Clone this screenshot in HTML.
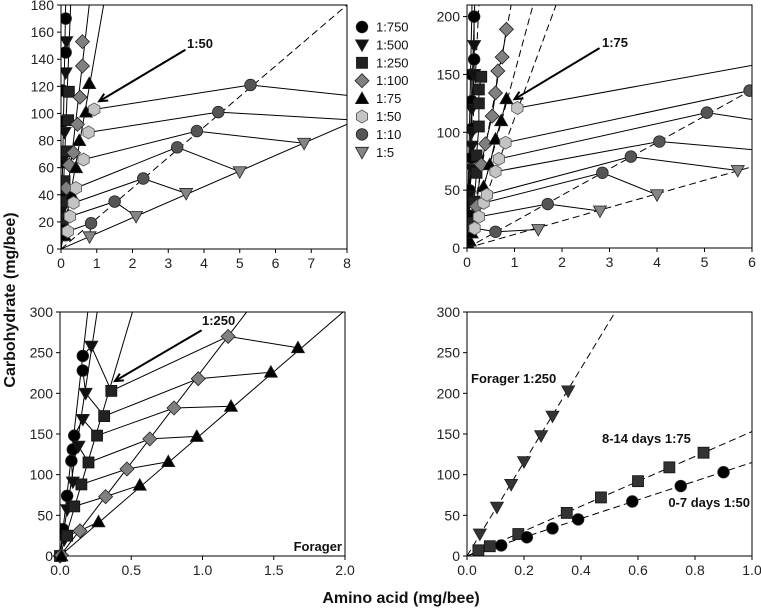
<!DOCTYPE html>
<html><head><meta charset="utf-8"><style>
body{margin:0;background:#fff}
svg{display:block;font-family:"Liberation Sans",sans-serif}
</style></head><body>
<svg id="chart" width="761" height="608" viewBox="0 0 761 608" xmlns="http://www.w3.org/2000/svg">
<text x="0" y="0" transform="translate(15,300) rotate(-90)" text-anchor="middle" font-size="16" font-weight="bold" fill="#111">Carbohydrate (mg/bee)</text>
<text x="401" y="603" text-anchor="middle" font-size="16" font-weight="bold" fill="#111">Amino acid (mg/bee)</text>
</svg>
<script>
// ---------- Panel 1 (top-left) ----------
const p1XTicks=[0,1,2,3,4,5,6,7,8];
const p1YTicks=[0,20,40,60,80,100,120,140,160,180];
const p1C750X=[0.02,0.03,0.04,0.05,0.04,0.13,0.13], p1C750Y=[15,37,64,94,117,145,170];
const p1T500X=[0.03,0.05,0.07,0.1,0.1,0.13,0.15], p1T500Y=[12,30,48,68,86,130,153];
const p1S250X=[0.02,0.05,0.08,0.1,0.15,0.2,0.22], p1S250Y=[10,22,35,50,72,95,116];
const p1D100X=[0.15,0.23,0.35,0.46,0.53,0.6,0.6], p1D100Y=[45,62,71,92,112,135,153];
const p1T75X=[0.1,0.2,0.3,0.42,0.51,0.7,0.79], p1T75Y=[10,25,40,60,80,101,122];
const p1H50X=[0.19,0.25,0.35,0.42,0.63,0.77,0.93], p1H50Y=[13,24,34,45,66,86,103];
const p1C10X=[0.84,1.5,2.3,3.25,3.8,4.4,5.3], p1C10Y=[19,35,52,75,87,101,121];
const p1T5X=[0.8,2.1,3.5,5.0,6.8,8.3,9.5], p1T5Y=[9,24,41,57,78,95,109];
const p1SolidSlopes=[1385,667,228,151,11.5];
const p1DashedSlopes=[22.5];
// ---------- Panel 2 (top-right) ----------
const p2XTicks=[0,1,2,3,4,5,6];
const p2YTicks=[0,50,100,150,200];
const p2C750X=[0.05,0.05,0.1,0.1,0.1,0.1,0.15,0.15], p2C750Y=[28,50,78,103,127,150,163,200];
const p2T500X=[0.05,0.05,0.1,0.1,0.1,0.1,0.15,0.15], p2T500Y=[20,45,68,88,100,120,150,175];
const p2S250X=[0.05,0.15,0.2,0.2,0.25,0.25,0.25,0.3], p2S250Y=[22,40,65,80,105,125,137,148];
const p2D100X=[0.2,0.3,0.39,0.53,0.6,0.65,0.74,0.83], p2D100Y=[36,72,90,114,134,153,165,189];
const p2T75X=[0.04,0.06,0.1,0.35,0.48,0.6,0.72,0.83], p2T75Y=[2,6,13,53,72,94,110,129];
const p2H50X=[0.16,0.25,0.35,0.42,0.6,0.67,0.81,1.06], p2H50Y=[17,27,39,46,66,77,91,121];
const p2C10X=[0.6,1.7,2.85,3.45,4.05,5.05,5.95,7.5], p2C10Y=[14,38,65,79,92,117,136,169];
const p2T5X=[1.5,2.8,4.0,5.7,6.97,8.27,null,null], p2T5Y=[16,32,46,67,81.5,96.7,null,null];
const p2SolidSlopes=[2000,1300];
const p2DashedSlopes=[840,226,151,112,22.8,11.7];
// ---------- Panel 3 (bottom-left, forager) ----------
const p3XTicks=[0,0.5,1.0,1.5,2.0];
const p3XTickLabels=["0.0","0.5","1.0","1.5","2.0"];
const p3YTicks=[0,50,100,150,200,250,300];
const p3C750X=[0.02,0.05,0.08,0.09,0.1,0.16,0.16], p3C750Y=[33,74,117,131,148,228,246];
const p3T500X=[0.03,0.05,0.09,0.13,0.16,0.18,0.22], p3T500Y=[20,57,91,135,168,200,258];
const p3S250X=[0.05,0.1,0.15,0.2,0.26,0.31,0.36], p3S250Y=[25,61,88,115,148,172,203];
const p3D100X=[0.14,0.32,0.47,0.63,0.8,0.97,1.18], p3D100Y=[31,73,107,144,182,218,270];
const p3T75X=[0.27,0.56,0.76,0.96,1.2,1.48,1.67], p3T75Y=[42,87,116,147,184,226,256];
const p3SolidSlopes=[1540,1150,590,229,151];
// ---------- Panel 4 (bottom-right) ----------
const p4XTicks=[0,0.2,0.4,0.6,0.8,1.0];
const p4XTickLabels=["0.0","0.2","0.4","0.6","0.8","1.0"];
const p4YTicks=[0,50,100,150,200,250,300];
const p4ForagerX=[0.045,0.105,0.155,0.2,0.26,0.3,0.355], p4ForagerY=[27,60,88,116,148,172,203];
const p4Day814X=[0.04,0.08,0.18,0.35,0.47,0.6,0.71,0.83], p4Day814Y=[7,12,27,53,72,92,109,127];
const p4Day07X=[0.12,0.21,0.3,0.39,0.58,0.75,0.9], p4Day07Y=[13,23,34,45,67,86,103];
const p4DashedSlopes=[577,153,115];
// legend
const legendLabels=["1:750","1:500","1:250","1:100","1:75","1:50","1:10","1:5"];

const NS="http://www.w3.org/2000/svg";
const svg=document.getElementById('chart');
function mk(tag,attrs,parent){const e=document.createElementNS(NS,tag);for(const k in attrs)e.setAttribute(k,attrs[k]);(parent||svg).appendChild(e);return e;}

const STY={
 c750:{shape:'circle',fill:'#000'},
 t500:{shape:'tridown',fill:'#111'},
 s250:{shape:'square',fill:'#222'},
 d100:{shape:'diamond',fill:'#808080'},
 t75:{shape:'triup',fill:'#000'},
 h50:{shape:'hex',fill:'#c4c4c4'},
 c10:{shape:'circle',fill:'#555'},
 t5:{shape:'tridown',fill:'#858585'}
};
function marker(g,shape,fill,px,py){
  let e;
  if(shape==='circle'){e=mk('circle',{cx:px,cy:py,r:5.8,fill:fill,stroke:'#222','stroke-width':0.8},g);}
  else if(shape==='square'){e=mk('rect',{x:px-5.5,y:py-5.5,width:11,height:11,fill:fill,stroke:'#111','stroke-width':0.8},g);}
  else if(shape==='tridown'){e=mk('polygon',{points:`${px-6.5},${py-5} ${px+6.5},${py-5} ${px},${py+6.5}`,fill:fill,stroke:'#222','stroke-width':0.8},g);}
  else if(shape==='triup'){e=mk('polygon',{points:`${px-6.5},${py+5} ${px+6.5},${py+5} ${px},${py-6.5}`,fill:fill,stroke:'#222','stroke-width':0.8},g);}
  else if(shape==='diamond'){e=mk('polygon',{points:`${px},${py-7} ${px+7},${py} ${px},${py+7} ${px-7},${py}`,fill:fill,stroke:'#222','stroke-width':0.8},g);}
  else {let p=[];for(let i=0;i<6;i++){const a=Math.PI/3*i+Math.PI/6;p.push((px+6.5*Math.cos(a)).toFixed(1)+','+(py+6.5*Math.sin(a)).toFixed(1));}
    e=mk('polygon',{points:p.join(' '),fill:fill,stroke:'#555','stroke-width':0.8},g);}
  
  
}

function panel(id,L,R,T,B,xmax,ymax,xTicks,xLabels,yTicks){
  const sx=v=>L+v/xmax*(R-L), sy=v=>B-v/ymax*(B-T);
  const g=mk('g',{});
  
  
  const cp=mk('clipPath',{id:id+'-clip'},g);
  mk('rect',{x:L,y:T,width:R-L,height:B-T},cp);
  const plot=mk('g',{'clip-path':`url(#${id}-clip)`},g);
  
  
  const fr=mk('rect',{x:L,y:T,width:R-L,height:B-T,fill:'none',stroke:'#000','stroke-width':1},g);
  
  
  xTicks.forEach((v,i)=>{const x=sx(v);mk('line',{x1:x,x2:x,y1:B,y2:B+4,stroke:'#000'},g);
    const t=mk('text',{x:x,y:B+19,'text-anchor':'middle','font-size':14,fill:'#222'},g);t.textContent=xLabels?xLabels[i]:String(v);
    
    });
  yTicks.forEach(v=>{const y=sy(v);mk('line',{x1:L-4,x2:L,y1:y,y2:y,stroke:'#000'},g);
    const t=mk('text',{x:L-7,y:y+5,'text-anchor':'end','font-size':14,fill:'#222'},g);t.textContent=String(v);
    
    });
  return {sx,sy,g,plot,xmax,ymax};
}
function rays(P,slopes,dashed){
  slopes.forEach(s=>{const xe=Math.min(P.xmax*1.2,P.ymax*1.2/s);
    const l=mk('line',{x1:P.sx(0),y1:P.sy(0),x2:P.sx(xe),y2:P.sy(s*xe),stroke:'#000','stroke-width':1,'stroke-dasharray':dashed?'7,4':'none'},P.plot);
    
    });
}
function connect(P,series){
  const n=Math.max(...series.map(s=>s[0].length));
  for(let i=0;i<n;i++){const pts=[];series.forEach(s=>{if(s[0][i]!=null)pts.push(P.sx(s[0][i]).toFixed(1)+','+P.sy(s[1][i]).toFixed(1));});
    const pl=mk('polyline',{points:pts.join(' '),fill:'none',stroke:'#000','stroke-width':1},P.plot);
    
    }
}
function points(P,xs,ys,sty){xs.forEach((x,i)=>{if(x!=null)marker(P.plot,sty.shape,sty.fill,P.sx(x),P.sy(ys[i]));});}
function arrow(P,x1,y1,x2,y2){
  const ax=P.sx(x1),ay=P.sy(y1),bx=P.sx(x2),by=P.sy(y2);
  const l=mk('line',{x1:ax,y1:ay,x2:bx,y2:by,stroke:'#000','stroke-width':2},P.g);
  
  
  const a=Math.atan2(by-ay,bx-ax),h=9;
  const hd=mk('polyline',{points:`${bx-h*Math.cos(a-0.45)},${by-h*Math.sin(a-0.45)} ${bx},${by} ${bx-h*Math.cos(a+0.45)},${by-h*Math.sin(a+0.45)}`,fill:'none',stroke:'#000','stroke-width':2},P.g);
  
  
}
function label(g,txt,x,y,anchor,name){const t=mk('text',{x:x,y:y,'text-anchor':anchor||'start','font-size':13,'font-weight':'bold',fill:'#111'},g);t.textContent=txt;
  
  }

// Panel 1
const P1=panel('panel-top-left',61,347,5,249,8,180,p1XTicks,null,p1YTicks);
rays(P1,p1SolidSlopes,false);rays(P1,p1DashedSlopes,true);
const s1=[[p1C750X,p1C750Y,STY.c750],[p1T500X,p1T500Y,STY.t500],[p1S250X,p1S250Y,STY.s250],[p1D100X,p1D100Y,STY.d100],[p1T75X,p1T75Y,STY.t75],[p1H50X,p1H50Y,STY.h50],[p1C10X,p1C10Y,STY.c10],[p1T5X,p1T5Y,STY.t5]];
connect(P1,s1.slice(5));s1.forEach(s=>points(P1,s[0],s[1],s[2]));
arrow(P1,3.48,147,1.07,109);label(P1.g,'1:50',187,48,'start','annotation-1-50');

// Panel 2
const P2=panel('panel-top-right',467,752,5,248,6,210,p2XTicks,null,p2YTicks);
rays(P2,p2SolidSlopes,false);rays(P2,p2DashedSlopes,true);
const s2=[[p2C750X,p2C750Y,STY.c750],[p2T500X,p2T500Y,STY.t500],[p2S250X,p2S250Y,STY.s250],[p2D100X,p2D100Y,STY.d100],[p2T75X,p2T75Y,STY.t75],[p2H50X,p2H50Y,STY.h50],[p2C10X,p2C10Y,STY.c10],[p2T5X,p2T5Y,STY.t5]];
connect(P2,s2.slice(5));
[[p2C750X,p2C750Y],[p2T500X,p2T500Y],[p2S250X,p2S250Y],[p2D100X,p2D100Y],[p2T75X,p2T75Y]].forEach(s=>{
  const pl=mk('polyline',{points:s[0].map((x,i)=>P2.sx(x)+','+P2.sy(s[1][i])).join(' '),fill:'none',stroke:'#000'},P2.plot);
  
  });
s2.forEach(s=>points(P2,s[0],s[1],s[2]));
arrow(P2,2.79,172.7,1.0,128.6);label(P2.g,'1:75',602,47,'start','annotation-1-75');

// Legend
legendLabels.forEach((t,i)=>{const y=27+i*17.9;const k=Object.keys(STY)[i];
  marker(svg,STY[k].shape,STY[k].fill,362,y);
  const tx=mk('text',{x:376,y:y+4.5,'font-size':13,fill:'#111'});tx.textContent=t;
  
  });

// Panel 3
const P3=panel('panel-bottom-left',60,345,312,556,2,300,p3XTicks,p3XTickLabels,p3YTicks);
rays(P3,p3SolidSlopes,false);
const s3=[[p3C750X,p3C750Y,STY.c750],[p3T500X,p3T500Y,STY.t500],[p3S250X,p3S250Y,STY.s250],[p3D100X,p3D100Y,STY.d100],[p3T75X,p3T75Y,STY.t75]];
connect(P3,s3);s3.forEach(s=>points(P3,s[0],s[1],s[2]));
marker(P3.g,'diamond','#fff',P3.sx(0),P3.sy(0));marker(P3.g,'square','#222',P3.sx(0),P3.sy(0));
marker(P3.g,'diamond','#808080',P3.sx(0.01),P3.sy(1));marker(P3.g,'triup','#000',P3.sx(0.01),P3.sy(0));
arrow(P3,0.994,277.5,0.385,215);label(P3.g,'1:250',202,325,'start','annotation-1-250');
label(P3.g,'Forager',342,551,'end','forager-label');

// Panel 4
const P4=panel('panel-bottom-right',467,752,312,556,1,300,p4XTicks,p4XTickLabels,p4YTicks);
rays(P4,p4DashedSlopes,true);
points(P4,p4ForagerX,p4ForagerY,{shape:'tridown',fill:'#333'});
points(P4,p4Day814X,p4Day814Y,{shape:'square',fill:'#333'});
points(P4,p4Day07X,p4Day07Y,{shape:'circle',fill:'#000'});
label(P4.g,'Forager 1:250',471,383,'start','forager-series-label');
label(P4.g,'8-14 days 1:75',602,443,'start','day8-14-series-label');
label(P4.g,'0-7 days 1:50',750,507,'end','day0-7-series-label');
</script>
</body></html>
